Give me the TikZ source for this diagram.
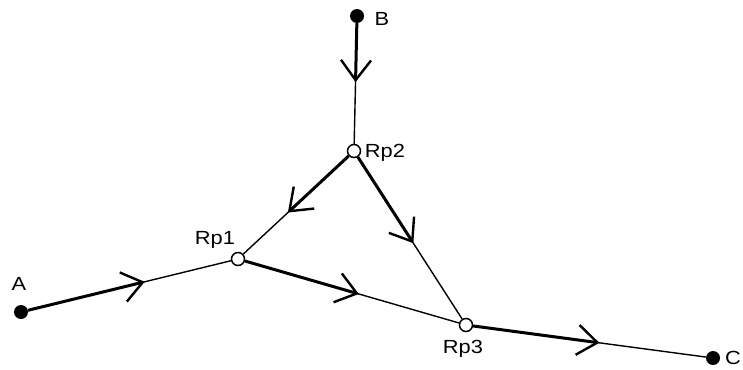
\documentclass[tikz,border=0pt]{standalone}
\usepackage{fontspec}
\setmainfont[FakeStretch=1.15]{Liberation Sans}
\usetikzlibrary{arrows.meta,calc}
\begin{document}
\begin{tikzpicture}[x=1pt,y=-1pt,
  dot/.style={circle,fill,inner sep=0pt,minimum size=14pt},
  junc/.style={circle,draw,line width=1.5pt,inner sep=0pt,minimum size=13pt},
  lbl/.style={font=\fontsize{19}{19}\selectfont,inner sep=0pt},
  thinseg/.style={line width=1.4pt},
  thickseg/.style={line width=3pt,-{Straight Barb[length=20pt,width=30pt,line width=2.4pt]}}]
\useasboundingbox (0,0) rectangle (743,369);
\node[dot] (B) at (357,16) {};
\node[dot] (A) at (21,312) {};
\node[dot] (C) at (713,358) {};
\node[lbl,anchor=west] (lC) at (725,358) {C};
\node[junc] (Rp2) at (354,151) {};
\node[junc] (Rp1) at (238,259) {};
\node[junc] (Rp3) at (466,325) {};
\node[lbl] (lB) at (382,19) {B};
\node[lbl] (lA) at (19,284) {A};
\node[lbl] (lRp2) at (385,153) {Rp2};
\node[lbl] (lRp1) at (215,240) {Rp1};
\node[lbl] (lRp3) at (463,349) {Rp3};
% thin full connectors
\draw[thinseg] (B) -- (Rp2);
\draw[thinseg] (A) -- (Rp1);
\draw[thinseg] (Rp2) -- (Rp1);
\draw[thinseg] (Rp2) -- (Rp3);
\draw[thinseg] (Rp1) -- (Rp3);
\draw[thinseg] (Rp3) -- (C);
% thick first halves with arrows
\draw[thickseg] (B) -- ($(B)!0.49!(Rp2)$);
\draw[thickseg] (A) -- ($(A)!0.57!(Rp1)$);
\draw[thickseg] (Rp2) -- ($(Rp2)!0.57!(Rp1)$);
\draw[thickseg] (Rp2) -- ($(Rp2)!0.53!(Rp3)$);
\draw[thickseg] (Rp1) -- ($(Rp1)!0.53!(Rp3)$);
\draw[thickseg] (Rp3) -- ($(Rp3)!0.54!(C)$);
\end{tikzpicture}
\end{document}
